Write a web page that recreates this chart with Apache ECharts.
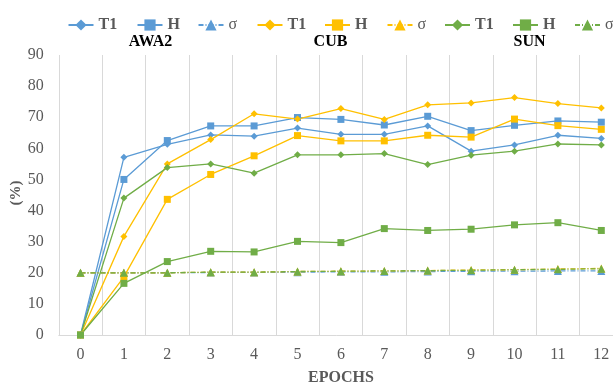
<!DOCTYPE html>
<html>
<head>
<meta charset="utf-8">
<script src="https://cdn.jsdelivr.net/npm/echarts@6/dist/echarts.min.js"></script>
<style>html,body{margin:0;padding:0;background:#fff}#c{width:613px;height:385px}</style>
</head>
<body>
<div id="c"></div>
<script>
var epochs = ['0','1','2','3','4','5','6','7','8','9','10','11','12'];
var datasets = ['AWA2','CUB','SUN'];
var metrics = ['T1','H','σ'];
var yTicks = [0,10,20,30,40,50,60,70,80,90];
var xTitle = 'EPOCHS';
var yTitle = '(%)';

var awa2T1 = [0,57.1,61.3,64.3,63.9,66.5,64.5,64.5,67.2,59.1,61.1,64.2,63.2];
var awa2H  = [0,50.0,62.5,67.2,67.2,69.9,69.3,67.5,70.3,65.7,67.4,68.8,68.4];
var awa2S  = [20.0,20.0,20.0,20.1,20.1,20.2,20.3,20.3,20.4,20.5,20.5,20.6,20.6];
var cubT1  = [0,31.7,55.0,62.8,71.1,69.4,72.8,69.3,74.0,74.6,76.3,74.4,73.0];
var cubH   = [0,18.7,43.6,51.6,57.6,64.1,62.4,62.4,64.2,63.6,69.4,67.3,66.1];
var cubS   = [20.0,20.0,20.0,20.2,20.2,20.4,20.5,20.6,20.7,20.9,21.0,21.2,21.4];
var sunT1  = [0,44.0,53.8,55.0,52.0,57.9,57.9,58.3,54.8,57.8,59.1,61.4,61.1];
var sunH   = [0,16.6,23.6,26.9,26.7,30.1,29.7,34.2,33.6,34.0,35.4,36.1,33.6];
var sunS   = [20.0,20.0,20.0,20.2,20.2,20.4,20.5,20.6,20.7,20.8,21.0,21.1,21.3];

var values = {
  'AWA2': [awa2T1, awa2H, awa2S],
  'CUB':  [cubT1, cubH, cubS],
  'SUN':  [sunT1, sunH, sunS]
};
var colors = {'AWA2':'#5B9BD5','CUB':'#FFC000','SUN':'#70AD47'};
var symbols = ['diamond','rect','triangle'];
var symbolSizes = [7,7,8];
var legendLefts = [62.5, 131.5, 192.5, 251.5, 319, 381.5, 439, 507, 569];

var serif = '"Liberation Serif", "Times New Roman", serif';
var series = [];
var legends = [];
datasets.forEach(function(ds){
  metrics.forEach(function(m, mi){
    var name = ds + '-' + m;
    legends.push({
      data: [name],
      left: legendLefts[legends.length],
      top: 12,
      itemWidth: 25,
      itemHeight: 14,
      itemGap: 0,
      formatter: function(n){
        var t = n.split('-')[1];
        return t === 'σ' ? '{s|' + t + '}' : '{b|' + t + '}';
      },
      textStyle: {
        color: '#595959', fontFamily: serif, fontSize: 16,
        rich: {
          b: {fontWeight: 'bold', fontSize: 16, color: '#595959', fontFamily: serif},
          s: {fontWeight: 'normal', fontSize: 16, color: '#595959', fontFamily: serif}
        }
      }
    });
    series.push({
      name: name,
      type: 'line',
      data: values[ds][mi],
      symbol: symbols[mi],
      symbolSize: symbolSizes[mi],
      showAllSymbol: true,
      color: colors[ds],
      itemStyle: {color: colors[ds]},
      lineStyle: {color: colors[ds], width: 1.3, type: mi === 2 ? [5,2,1,2] : 'solid'},
      emphasis: {disabled: true},
      animation: false
    });
  });
});

var graphics = datasets.map(function(ds, i){
  var xs = [150.5, 330.5, 529.5];
  return {
    type: 'text', x: xs[i], y: 42,
    style: {text: ds, fontFamily: serif, fontSize: 16, fontWeight: 'bold', fill: '#000',
      align: 'center', verticalAlign: 'middle'}
  };
});
graphics.push({
  type: 'text', x: 341, y: 378,
  style: {text: xTitle, fontFamily: serif, fontSize: 16, fontWeight: 'bold', fill: '#595959',
    align: 'center', verticalAlign: 'middle'}
});
graphics.push({
  type: 'text', x: 16.5, y: 193, rotation: Math.PI / 2,
  style: {text: yTitle, fontFamily: serif, fontSize: 15, fontWeight: 'bold', fill: '#595959',
    align: 'center', verticalAlign: 'middle'}
});

var chart = echarts.init(document.getElementById('c'));
chart.setOption({
  animation: false,
  grid: {left: 58.8, right: -10, top: 55, bottom: 50, containLabel: false, outerBoundsMode: 'none'},
  legend: legends,
  graphic: graphics,
  xAxis: {
    type: 'category',
    data: epochs,
    boundaryGap: true,
    axisLine: {show: true, lineStyle: {color: '#D9D9D9', width: 1}},
    axisTick: {show: false},
    axisLabel: {fontFamily: serif, fontSize: 16, color: '#595959', margin: 12, interval: 0},
    splitLine: {show: true, interval: 0, lineStyle: {color: '#D9D9D9', width: 1}}
  },
  yAxis: {
    type: 'value',
    min: yTicks[0],
    max: yTicks[yTicks.length - 1],
    interval: 10,
    axisLine: {show: false},
    axisTick: {show: false},
    splitLine: {show: false},
    axisLabel: {fontFamily: serif, fontSize: 16, color: '#595959', margin: 15}
  },
  series: series
});
</script>
</body>
</html>
